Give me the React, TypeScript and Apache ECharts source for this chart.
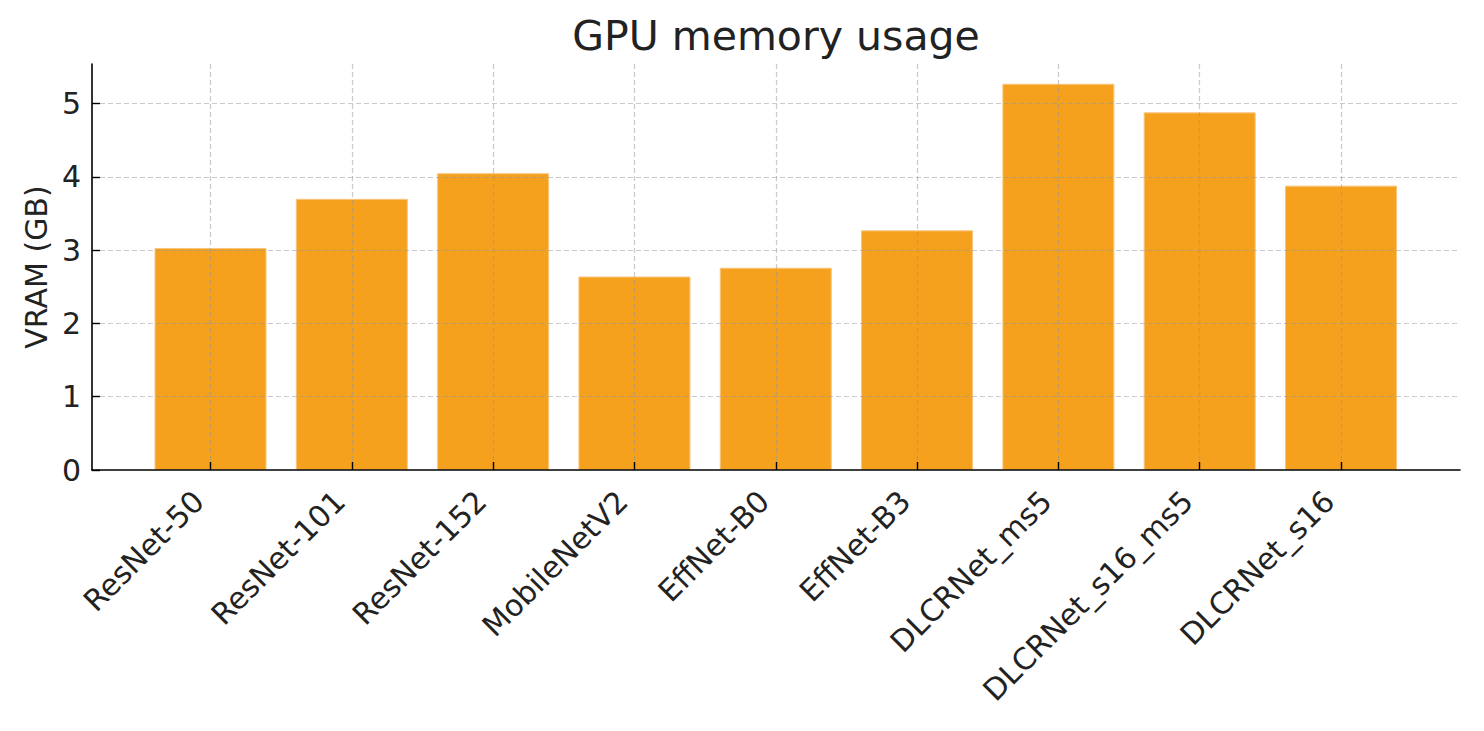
import React, { useEffect, useRef } from "react";
import * as echarts from "echarts";

const categories = [
  "ResNet-50",
  "ResNet-101",
  "ResNet-152",
  "MobileNetV2",
  "EffNet-B0",
  "EffNet-B3",
  "DLCRNet_ms5",
  "DLCRNet_s16_ms5",
  "DLCRNet_s16",
];
const vramGB = [3.03, 3.7, 4.05, 2.64, 2.76, 3.27, 5.27, 4.88, 3.88];
const yTickValues = [0, 1, 2, 3, 4, 5];
const yMax = 5.54;

const FONT = "DejaVu Sans";
const TEXT = "#222222";
const GRID_LINE = {
  color: "rgba(150,150,150,0.5)",
  width: 1.2,
  type: [5, 3] as number[],
};

export default function App() {
  const ref = useRef<HTMLDivElement>(null);

  useEffect(() => {
    if (!ref.current) return;
    const chart = echarts.init(ref.current, null, { renderer: "svg" });
    chart.setOption({
      animation: false,
      backgroundColor: "#ffffff",
      title: {
        text: "GPU memory usage",
        left: 771,
        top: 10,
        textAlign: "center",
        textStyle: { fontFamily: FONT, fontSize: 41, fontWeight: "normal", color: TEXT },
      },
      grid: [
        { left: 92, top: 64, width: 1368, height: 406 },
        { left: 210.5, top: 64, width: 1130.5, height: 406 },
      ],
      xAxis: [
        {
          gridIndex: 0,
          type: "value",
          min: 0,
          max: 1,
          z: 6,
          axisLine: { show: true, lineStyle: { color: "#000", width: 1.6 } },
          axisTick: { show: false },
          axisLabel: { show: false },
          splitLine: { show: false },
        },
        {
          gridIndex: 1,
          type: "category",
          data: categories,
          boundaryGap: false,
          z: 5,
          axisLine: { show: false },
          axisTick: {
            show: true,
            inside: true,
            length: 8,
            interval: 0,
            lineStyle: { color: "#000", width: 1.4 },
          },
          axisLabel: {
            interval: 0,
            rotate: 45,
            margin: 14,
            padding: [0, 17, 0, 0],
            fontFamily: FONT,
            fontSize: 30,
            color: TEXT,
          },
          splitLine: { show: true, interval: 0, lineStyle: GRID_LINE },
        },
      ],
      yAxis: [
        {
          gridIndex: 0,
          type: "value",
          min: 0,
          max: yMax,
          interval: 1,
          z: 5,
          name: "VRAM (GB)",
          nameLocation: "middle",
          nameGap: 41,
          nameTextStyle: { fontFamily: FONT, fontSize: 30, color: TEXT },
          axisLine: { show: true, lineStyle: { color: "#000", width: 1.6 } },
          axisTick: {
            show: true,
            inside: true,
            length: 8,
            customValues: yTickValues,
            lineStyle: { color: "#000", width: 1.4 },
          },
          axisLabel: {
            margin: 11,
            customValues: yTickValues,
            fontFamily: FONT,
            fontSize: 30,
            color: TEXT,
          },
          splitLine: { show: true, showMinLine: false, lineStyle: GRID_LINE },
        },
        { gridIndex: 1, type: "value", min: 0, max: yMax, show: false },
      ],
      series: [
        {
          type: "bar",
          xAxisIndex: 1,
          yAxisIndex: 1,
          data: vramGB,
          barWidth: 112,
          clip: false,
          z: 2,
          itemStyle: { color: "#F5A11E", borderColor: "#F8C57E", borderWidth: 1 },
        },
      ],
    });
    return () => chart.dispose();
  }, []);

  return (
    <div
      ref={ref}
      style={{ position: "fixed", left: 0, top: 0, width: 1484, height: 731 }}
    />
  );
}
